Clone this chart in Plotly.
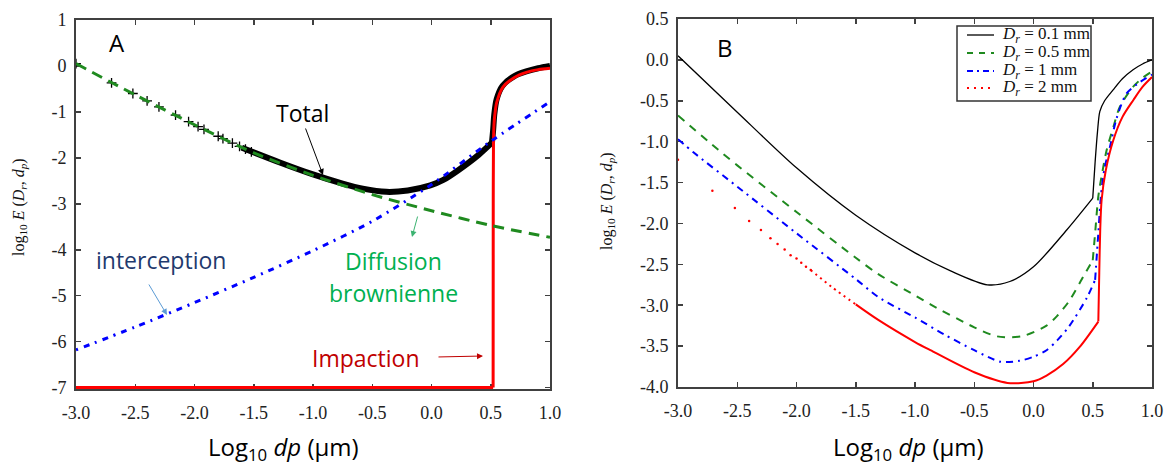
import plotly.graph_objects as go

W, H = 1171, 465

# ---------------- Panel A data (log10 dp, log10 E) ----------------
diff_x = [-3.0, -2.5, -2.0, -1.5, -1.0, -0.5, 0.0, 0.5, 1.0]
diff_y = [0.05, -0.63, -1.28, -1.89, -2.38, -2.80, -3.15, -3.47, -3.73]

inter_x = [-3.0, -2.5, -2.0, -1.5, -1.0, -0.5, 0.0, 0.5, 1.0]
inter_y = [-6.18, -5.68, -5.15, -4.60, -4.02, -3.38, -2.58, -1.64, -0.78]

imp_flat_x = [-3.0, 0.52]
imp_flat_y = [-7.0, -7.0]
imp_rise_x = [0.52, 0.521, 0.523, 0.528, 0.535, 0.55, 0.60, 0.70, 0.80, 0.90, 1.0]
imp_rise_y = [-7.0, -3.0, -1.7, -1.25, -1.05, -0.80, -0.47, -0.25, -0.14, -0.08, -0.05]

total_mk_x = [-3.0, -2.70, -2.52, -2.40, -2.30, -2.16, -2.05, -1.97, -1.92, -1.80, -1.76, -1.68, -1.62, -1.57, -1.52]
total_mk_y = [0.05, -0.37, -0.60, -0.76, -0.89, -1.07, -1.21, -1.32, -1.38, -1.53, -1.58, -1.68, -1.75, -1.81, -1.87]

total_low_x = [-1.60, -1.28, -1.0, -0.75, -0.58, -0.38, -0.20, -0.01, 0.10, 0.22, 0.40, 0.51]
total_low_y = [-1.78, -2.10, -2.36, -2.56, -2.67, -2.74, -2.71, -2.60, -2.48, -2.28, -1.93, -1.67]
total_high_x = [0.51, 0.52, 0.53, 0.55, 0.60, 0.70, 0.80, 0.90, 1.0]
total_high_y = [-1.67, -1.40, -1.05, -0.72, -0.43, -0.22, -0.12, -0.05, 0.0]

# ---------------- Panel B data ----------------
b01_low_x = [-3.0, -2.5, -2.0, -1.5, -1.0, -0.7, -0.39, -0.2, 0.0, 0.28, 0.5]
b01_low_y = [0.05, -0.64, -1.32, -1.90, -2.36, -2.58, -2.75, -2.71, -2.53, -2.08, -1.69]
b01_high_x = [0.5, 0.52, 0.54, 0.56, 0.60, 0.67, 0.75, 0.84, 0.92, 1.0]
b01_high_y = [-1.69, -1.25, -0.88, -0.63, -0.50, -0.37, -0.23, -0.12, -0.05, 0.0]

b05_low_x = [-3.0, -2.66, -2.5, -2.0, -1.5, -1.31, -1.0, -0.87, -0.5, -0.31, -0.1, 0.11, 0.20, 0.30, 0.42, 0.50]
b05_low_y = [-0.68, -1.10, -1.29, -1.86, -2.42, -2.62, -2.88, -2.99, -3.27, -3.38, -3.38, -3.25, -3.13, -2.95, -2.65, -2.45]
b05_high_x = [0.50, 0.52, 0.547, 0.58, 0.618, 0.674, 0.73, 0.84, 0.92, 1.0]
b05_high_y = [-2.45, -2.12, -1.67, -1.38, -1.10, -0.82, -0.57, -0.33, -0.22, -0.14]

b1_low_x = [-3.0, -2.87, -2.5, -2.0, -1.5, -1.31, -1.0, -0.75, -0.5, -0.28, -0.12, 0.0, 0.11, 0.20, 0.30, 0.45, 0.52]
b1_low_y = [-0.97, -1.13, -1.55, -2.12, -2.68, -2.90, -3.15, -3.36, -3.55, -3.69, -3.68, -3.63, -3.55, -3.43, -3.26, -2.91, -2.69]
b1_high_x = [0.52, 0.547, 0.57, 0.60, 0.646, 0.70, 0.786, 0.90, 1.0]
b1_high_y = [-2.69, -2.12, -1.65, -1.32, -1.06, -0.72, -0.41, -0.27, -0.18]

b2_dot_x = [-3.0, -2.71, -2.52, -2.40, -2.30, -2.22, -2.16, -2.10, -2.05, -2.00, -1.96, -1.92, -1.88]
b2_dot_y = [-1.22, -1.60, -1.81, -1.97, -2.08, -2.18, -2.25, -2.32, -2.39, -2.43, -2.48, -2.53, -2.57]
b2_fine_x = [-1.88, -1.70, -1.50]
b2_fine_y = [-2.57, -2.78, -2.99]
b2_low_x = [-1.50, -1.31, -1.0, -0.87, -0.5, -0.22, 0.0, 0.11, 0.25, 0.39, 0.547]
b2_low_y = [-2.99, -3.18, -3.45, -3.55, -3.82, -3.95, -3.93, -3.86, -3.72, -3.51, -3.20]
b2_high_x = [0.547, 0.555, 0.563, 0.575, 0.61, 0.674, 0.75, 0.843, 0.92, 1.0]
b2_high_y = [-3.20, -2.60, -2.08, -1.71, -1.35, -0.98, -0.70, -0.49, -0.33, -0.21]

# legend labels (panel B)
legend_labels = ["<i>D<sub>r</sub></i> = 0.1 mm", "<i>D<sub>r</sub></i> = 0.5 mm",
                 "<i>D<sub>r</sub></i> = 1 mm", "<i>D<sub>r</sub></i> = 2 mm"]

# ---------------- ticks ----------------
x_ticks = [-3.0, -2.5, -2.0, -1.5, -1.0, -0.5, 0.0, 0.5, 1.0]
x_ticktext = ["-3.0", "-2.5", "-2.0", "-1.5", "-1.0", "-0.5", "0.0", "0.5", "1.0"]
ya_ticks = [-7, -6, -5, -4, -3, -2, -1, 0, 1]
ya_ticktext = ["-7", "-6", "-5", "-4", "-3", "-2", "-1", "0", "1"]
yb_ticks = [-4.0, -3.5, -3.0, -2.5, -2.0, -1.5, -1.0, -0.5, 0.0, 0.5]
yb_ticktext = ["-4.0", "-3.5", "-3.0", "-2.5", "-2.0", "-1.5", "-1.0", "-0.5", "0.0", "0.5"]

BLACK = "#000000"
GREEN = "#1f8a1f"
BLUE = "#0000ff"
RED = "#ff0000"
AXC = "#404040"

B_DASH = {"green": "8px,7px", "blue": "7px,5px,2px,5px"}

fig = go.Figure()

def line(x, y, color, width, dash="solid", xa="x", ya="y", spline=True):
    fig.add_trace(go.Scatter(
        x=x, y=y, mode="lines",
        line=dict(color=color, width=width, dash=dash,
                  shape="spline" if spline else "linear", smoothing=0.8),
        xaxis=xa, yaxis=ya, showlegend=False, hoverinfo="skip"))

# Panel A traces
line(total_low_x, total_low_y, BLACK, 6)
line(total_high_x, total_high_y, BLACK, 6)
fig.add_trace(go.Scatter(x=total_mk_x, y=total_mk_y, mode="markers",
                         marker=dict(symbol="cross-thin", size=7, line=dict(color=BLACK, width=1.3)),
                         xaxis="x", yaxis="y", showlegend=False, hoverinfo="skip"))
line(imp_flat_x, imp_flat_y, RED, 3, spline=False)
line(imp_rise_x, imp_rise_y, RED, 3)
line(inter_x, inter_y, BLUE, 3, dash="2px,6px,6px,6px")
line(diff_x, diff_y, GREEN, 3, dash="11px,7px")

# Panel B traces
line(b01_low_x, b01_low_y, BLACK, 1.3, xa="x2", ya="y2")
line(b01_high_x, b01_high_y, BLACK, 1.3, xa="x2", ya="y2")
line(b05_low_x, b05_low_y, GREEN, 2, dash=B_DASH["green"], xa="x2", ya="y2")
line(b05_high_x, b05_high_y, GREEN, 2, dash=B_DASH["green"], xa="x2", ya="y2")
line(b1_low_x, b1_low_y, BLUE, 2, dash=B_DASH["blue"], xa="x2", ya="y2")
line(b1_high_x, b1_high_y, BLUE, 2, dash=B_DASH["blue"], xa="x2", ya="y2")
line(b2_fine_x, b2_fine_y, RED, 2, dash="2px,4px", xa="x2", ya="y2")
fig.add_trace(go.Scatter(x=b2_dot_x, y=b2_dot_y, mode="markers", marker=dict(color=RED, size=2.5),
                         xaxis="x2", yaxis="y2", showlegend=False, hoverinfo="skip"))
line(b2_low_x, b2_low_y, RED, 2, xa="x2", ya="y2")
line(b2_high_x, b2_high_y, RED, 2, xa="x2", ya="y2")

TICKFONT = dict(family="Liberation Serif", size=18, color="#222222")

def px(v):
    return v / W

def py(v):
    return 1 - v / H

common_axis = dict(showline=True, linecolor=AXC, linewidth=2, mirror="ticks", ticks="inside",
                   ticklen=5, tickwidth=1.5, tickcolor=AXC, showgrid=False, zeroline=False,
                   tickfont=TICKFONT, layer="below traces", automargin=False, fixedrange=True)

fig.update_layout(
    width=W, height=H,
    margin=dict(l=0, r=0, t=0, b=0, pad=0),
    paper_bgcolor="white", plot_bgcolor="white",
    showlegend=False, hovermode=False,
    xaxis=dict(domain=[px(76), px(550)], range=[-3, 1], tickvals=x_ticks, ticktext=x_ticktext,
               anchor="y", ticklabelstandoff=6, **common_axis),
    yaxis=dict(domain=[py(389), py(20)], range=[-7.03, 1], tickvals=ya_ticks, ticktext=ya_ticktext,
               anchor="x", ticklabelstandoff=4, **common_axis),
    xaxis2=dict(domain=[px(678), px(1152)], range=[-3, 1], tickvals=x_ticks, ticktext=x_ticktext,
                anchor="y2", ticklabelstandoff=6, **common_axis),
    yaxis2=dict(domain=[py(387), py(19)], range=[-4, 0.5], tickvals=yb_ticks, ticktext=yb_ticktext,
                anchor="x2", ticklabelstandoff=4, **common_axis),
)

SANS = "Open Sans"
ann = []
shapes = []

def text_ann(x, y, text, color, size, family=SANS, angle=0, xanchor="center"):
    ann.append(dict(x=px(x), y=py(y), xref="paper", yref="paper", text=text, showarrow=False,
                    font=dict(family=family, size=size, color=color), xanchor=xanchor, yanchor="middle",
                    textangle=angle))

def arrow_ann(hx, hy, tx, ty, color, width=1.0):
    ann.append(dict(x=px(hx), y=py(hy), xref="paper", yref="paper", text="", showarrow=True,
                    ax=tx - hx, ay=ty - hy, arrowhead=2, arrowsize=1.2, arrowwidth=width,
                    arrowcolor=color))

text_ann(117, 42, "A", "#000000", 24)
text_ann(302, 113, "Total", "#000000", 23)
text_ann(393, 261, "Diffusion", "#00b050", 23)
text_ann(393, 293, "brownienne", "#00b050", 23)
text_ann(161, 260, "interception", "#1f3a6e", 23)
text_ann(366, 358, "Impaction", "#c00000", 23)
text_ann(725, 47, "B", "#000000", 24)

arrow_ann(323, 175, 305, 127, "#000000")
arrow_ann(412, 237, 418, 215, "#3cb371")
arrow_ann(167, 315, 148, 283, "#5b9bd5")
arrow_ann(483, 356, 437, 357, "#c00000")

# axis titles
text_ann(283, 448, "Log<sub>10</sub> <i>dp</i> (µm)", "#000000", 24)
text_ann(908, 448, "Log<sub>10</sub> <i>dp</i> (µm)", "#000000", 24)
YT = "log<sub>10</sub> <i>E</i> (<i>D<sub>r</sub></i>, <i>d<sub>p</sub></i>)"
text_ann(19, 207, YT, "#111111", 16, family="Liberation Serif", angle=-90)
text_ann(607, 201, YT, "#111111", 16, family="Liberation Serif", angle=-90)

# legend of panel B (box, samples, labels)
shapes.append(dict(type="rect", xref="paper", yref="paper", x0=px(957), x1=px(1091), y0=py(101), y1=py(26),
                   line=dict(color="#333333", width=1.5), fillcolor="white", layer="above"))
leg_rows = [35, 53, 71, 88]
leg_styles = [(BLACK, 1.3, "solid"), (GREEN, 2, "6px,6px"), (BLUE, 2, "6px,4px,2px,4px"), (RED, 2, "2px,5px")]
for row, (col, wd, ds), lab in zip(leg_rows, leg_styles, legend_labels):
    shapes.append(dict(type="line", xref="paper", yref="paper", x0=px(967), x1=px(994), y0=py(row), y1=py(row),
                       line=dict(color=col, width=wd, dash=ds), layer="above"))
    text_ann(1000, row, lab, "#111111", 17, family="Liberation Serif", xanchor="left")

fig.update_layout(annotations=ann, shapes=shapes)

fig.write_html("out.html", config={"displayModeBar": False, "staticPlot": True},
               post_script="document.body.style.margin='0px';")
